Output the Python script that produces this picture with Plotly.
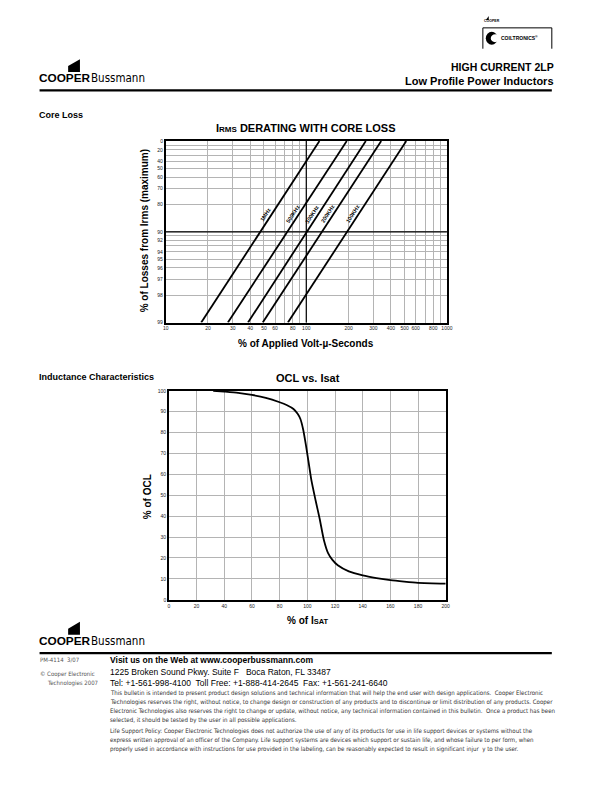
import math
import plotly.graph_objects as go

# ---------------- data ----------------
freq_labels = ["1MHz", "500KHz", "300KHz", "200KHz", "100KHz"]
volt_us_at_99_loss = [17.9, 27.7, 38.5, 49.0, 74.0]     # % volt-us where loss line hits 99
volt_us_at_0_loss = [124.0, 194.0, 265.0, 341.0, 514.0]  # % volt-us where loss line hits 0

loss_tick_labels = [0, 20, 40, 50, 60, 70, 80, 90, 92, 94, 95, 96, 97, 98, 99]
loss_grid_only = [10, 30, 91, 93]
vs_tick_labels = [10, 20, 30, 40, 50, 60, 80, 100, 200, 300, 400, 500, 600, 800, 1000]
vs_grid_only = [70, 90, 700, 900]

isat_pct = [32, 40, 50, 60, 70, 80, 85, 90, 93, 95, 97, 99, 101, 103, 106, 109, 112, 115, 118, 122, 130, 140, 150, 160, 170, 180, 190, 200]
ocl_pct = [100, 99.6, 99.0, 98.0, 96.6, 94.5, 93.2, 91.3, 89.0, 86.5, 81.5, 74.0, 65.5, 57.0, 47.5, 38.5, 28.5, 22.3, 19.2, 16.5, 13.6, 11.7, 10.4, 9.4, 8.7, 8.1, 7.8, 7.7]

# ---------------- helpers ----------------
OFF = 8                      # page body margin
W, H = 612 - OFF, 792 - OFF
def PX(p):
    return (p - OFF) / W
def PY(p):
    return 1 - (p - OFF) / H

FONT = "Liberation Sans, Arial, sans-serif"
NARROW = "Liberation Sans Narrow, Arial Narrow, DejaVu Sans Condensed, sans-serif"

fig = go.Figure()

# Core loss lines
for lab, a, b in zip(freq_labels, volt_us_at_99_loss, volt_us_at_0_loss):
    fig.add_trace(go.Scatter(x=[a, b], y=[100 - 99, 100 - 0], mode="lines",
                             line=dict(color="black", width=1.8), showlegend=False,
                             hoverinfo="skip", xaxis="x", yaxis="y"))

# OCL curve
fig.add_trace(go.Scatter(x=isat_pct, y=ocl_pct, mode="lines", line=dict(color="black", width=1.8, shape="spline", smoothing=0.6),
                         showlegend=False, hoverinfo="skip", xaxis="x2", yaxis="y2"))

# ticks core loss
y_vals = [100 - v for v in loss_tick_labels] + [100 - v for v in loss_grid_only]
y_text = [str(v) for v in loss_tick_labels] + [" " for _ in loss_grid_only]
x_vals = vs_tick_labels + vs_grid_only
x_text = [str(v) for v in vs_tick_labels] + [" " for _ in vs_grid_only]

tickfont = dict(family=FONT, size=5, color="#222")
GRID = "#b4b4b4"

fig.update_layout(
    width=W, height=H, margin=dict(l=0, r=0, t=0, b=0),
    paper_bgcolor="white", plot_bgcolor="white",
    xaxis=dict(domain=[PX(165), PX(450.5)], type="log", range=[1, 3], tickmode="array",
               tickvals=x_vals, ticktext=x_text, showgrid=True, gridcolor=GRID, gridwidth=1,
               showline=True, mirror=True, linecolor="black", linewidth=1.5, ticks="",
               tickfont=tickfont, zeroline=False, anchor="y"),
    yaxis=dict(domain=[PY(322), PY(139)], type="log", range=[-0.0005, 2.0005], tickmode="array",
               tickvals=y_vals, ticktext=y_text, showgrid=True, gridcolor=GRID, gridwidth=1,
               showline=True, mirror=True, linecolor="black", linewidth=1.5, ticks="",
               tickfont=tickfont, zeroline=False, anchor="x"),
    xaxis2=dict(domain=[PX(168.3), PX(449.3)], range=[0, 200], tickmode="linear", tick0=0, dtick=20,
                showgrid=True, gridcolor=GRID, gridwidth=1, showline=True, mirror=True,
                linecolor="black", linewidth=1.5, ticks="", tickfont=tickfont, zeroline=False, anchor="y2"),
    yaxis2=dict(domain=[PY(601.3), PY(390.7)], range=[0, 100], tickmode="linear", tick0=0, dtick=10,
                showgrid=True, gridcolor=GRID, gridwidth=1, showline=True, mirror=True,
                linecolor="black", linewidth=1.5, ticks="", tickfont=tickfont, zeroline=False, anchor="x2"),
)

shapes = []
# dark reference lines
shapes.append(dict(type="line", xref="x", yref="y domain", x0=100, x1=100, y0=0, y1=1, line=dict(color="black", width=1.2)))
shapes.append(dict(type="line", xref="x domain", yref="y", x0=0, x1=1, y0=100 - 90, y1=100 - 90, line=dict(color="black", width=1.2)))

# header rule & footer rule
shapes.append(dict(type="line", xref="paper", yref="paper", x0=PX(37), x1=PX(557), y0=PY(88), y1=PY(88), line=dict(color="black", width=2.2)))
shapes.append(dict(type="line", xref="paper", yref="paper", x0=PX(37), x1=PX(557), y0=PY(655), y1=PY(655), line=dict(color="black", width=2.2)))

def flag(x0, ybot):
    # cooper logo mark: trapezoid above "OP"
    pts = [(x0, ybot), (x0 + 12, ybot), (x0 + 12, ybot - 13), (x0, ybot - 6)]
    d = "M " + " L ".join(f"{PX(a)},{PY(b)}" for a, b in pts) + " Z"
    return dict(type="path", xref="paper", yref="paper", path=d, fillcolor="black", line=dict(width=0))

shapes.append(flag(66, 69.5))
shapes.append(flag(66, 636.5))

# coiltronics box
box = f"M {PX(487)},{PY(46)} L {PX(487)},{PY(25)} L {PX(557)},{PY(25)} L {PX(557)},{PY(46)}"
shapes.append(dict(type="path", xref="paper", yref="paper", path=box, line=dict(color="black", width=1)))
shapes.append(dict(type="circle", xref="paper", yref="paper", x0=PX(490), x1=PX(502), y0=PY(42), y1=PY(29), fillcolor="black", line=dict(width=0)))
shapes.append(dict(type="circle", xref="paper", yref="paper", x0=PX(495), x1=PX(504), y0=PY(39.5), y1=PY(31.5), fillcolor="white", line=dict(width=0)))
shapes.append(dict(type="path", xref="paper", yref="paper",
                   path=f"M {PX(490)},{PY(17)} L {PX(493)},{PY(17)} L {PX(493)},{PY(13)} Z", fillcolor="black", line=dict(width=0)))

fig.update_layout(shapes=shapes)

ann = []
def text(x, y, s, size, bold=False, anchor="left", family=FONT, color="black", angle=0):
    if bold:
        s = "<b>" + s + "</b>"
    ann.append(dict(xref="paper", yref="paper", x=PX(x), y=PY(y), text=s, showarrow=False,
                    xanchor=anchor, yanchor="middle", textangle=angle, borderpad=0, borderwidth=0,
                    font=dict(family=family, size=size, color=color)))

# header
text(36, 76, "COOPER", 11.8, bold=True)
text(89.5, 76, "Bussmann", 11.5, family=NARROW)
text(559, 64, "HIGH CURRENT 2LP", 10.5, bold=True, anchor="right")
text(559, 79, "Low Profile Power Inductors", 11, bold=True, anchor="right")
text(488, 18, "COOPER", 3.5, bold=True)
text(505, 35.5, "COILTRONICS<sup>®</sup>", 5, bold=True)

text(36, 113, "Core Loss", 9, bold=True)
text(36, 377, "Inductance Characteristics", 9, bold=True)

# chart titles
text(307, 126, "I<span style='font-size:8px'>RMS</span> DERATING WITH CORE LOSS", 11, bold=True, anchor="center")
text(307, 343, "% of Applied Volt-µ-Seconds", 10, bold=True, anchor="center")
text(143, 229, "% of Losses from Irms (maximum)", 10, bold=True, anchor="center", angle=-90)
text(309, 378, "OCL vs. Isat", 11, bold=True, anchor="center")
text(309, 622, "% of I<span style='font-size:7.5px'>SAT</span>", 10, bold=True, anchor="center")
text(146, 497, "% of OCL", 10, bold=True, anchor="center", angle=-90)

# line labels on core loss
label_loss = 85.5
for lab, a, b in zip(freq_labels, volt_us_at_99_loss, volt_us_at_0_loss):
    yv = 100 - label_loss
    frac = (math.log10(yv) - 0) / 2
    lx = math.log10(a) + frac * (math.log10(b) - math.log10(a))
    ann.append(dict(xref="x", yref="y", x=lx, y=math.log10(yv), text="<b>" + lab + "</b>", showarrow=False,
                    textangle=-57, xshift=-4, yshift=3, font=dict(family=FONT, size=5.5, color="black")))

# footer
text(36, 643, "COOPER", 11.8, bold=True)
text(89.5, 643, "Bussmann", 11.5, family=NARROW)
GRAY = "#555"
text(37, 661, "PM-4114  3/07", 6, family=NARROW, color=GRAY)
text(37, 676, "© Cooper Electronic", 6, family=NARROW, color=GRAY)
text(45, 685, "Technologies 2007", 6, family=NARROW, color=GRAY)
text(108, 662, "Visit us on the Web at www.cooperbussmann.com", 8.5, bold=True)
text(108, 674, "1225 Broken Sound Pkwy. Suite F   Boca Raton, FL 33487", 8.5)
text(108, 685, "Tel: +1-561-998-4100  Toll Free: +1-888-414-2645  Fax: +1-561-241-6640", 8.5)

para = [
    (695, "This bulletin is intended to present product design solutions and technical information that will help the end user with design applications.  Cooper Electronic"),
    (704, "Technologies reserves the right, without notice, to change design or construction of any products and to discontinue or limit distribution of any products. Cooper"),
    (713, "Electronic Technologies also reserves the right to change or update, without notice, any technical information contained in this bulletin.  Once a product has been"),
    (722, "selected, it should be tested by the user in all possible applications."),
    (734, "Life Support Policy: Cooper Electronic Technologies does not authorize the use of any of its products for use in life support devices or systems without the"),
    (743, "express written approval of an officer of the Company. Life support systems are devices which support or sustain life, and whose failure to per form, when"),
    (752, "properly used in accordance with instructions for use provided in the labeling, can be reasonably expected to result in significant injur  y to the user."),
]
for yy, s in para:
    text(108, yy, s, 6.1, family=NARROW, color="#333")

fig.update_layout(annotations=ann)
fig.write_html("out.html")
